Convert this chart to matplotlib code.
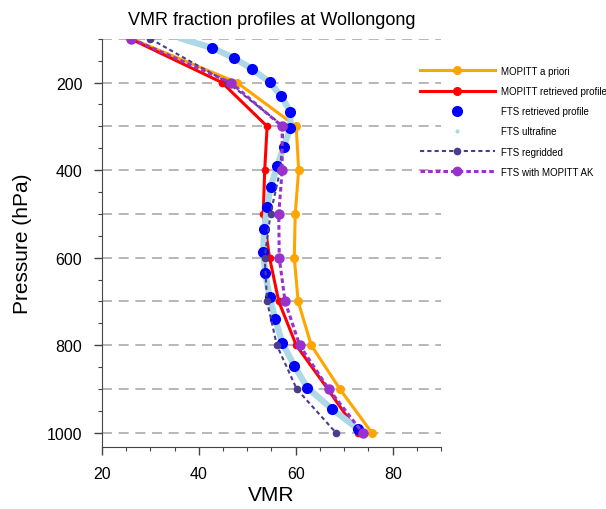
import matplotlib
matplotlib.use("Agg")
import matplotlib.pyplot as plt
from matplotlib.lines import Line2D
from matplotlib.ticker import MultipleLocator, FixedLocator

plt.rcParams['font.family'] = ['Liberation Sans', 'DejaVu Sans']

# MOPITT pressure grid (hPa)
mop_p = [100, 200, 300, 400, 500, 600, 700, 800, 900, 1000]
apriori = [26.1, 47.9, 60.1, 60.6, 59.9, 59.7, 60.5, 63.2, 69.1, 75.7]
retrieved = [25.9, 44.8, 54.1, 53.6, 53.3, 54.6, 56.5, 60.1, 66.6, 72.9]
regridded = [30.0, 46.0, 57.5, 56.8, 54.8, 53.6, 54.1, 56.1, 60.2, 68.3]
fts_ak = [26.1, 46.6, 57.2, 57.2, 56.5, 56.6, 57.8, 60.8, 66.8, 73.8]

# FTS retrieval levels
fts_p = [121, 144, 169, 199, 231, 267, 304, 347, 391, 439, 485,
         535, 586, 636, 689, 741, 794, 847, 897, 945, 991]
fts_vmr = [42.8, 47.3, 51.0, 54.6, 57.0, 58.9, 58.9, 57.5, 56.2, 54.8, 54.1,
           53.5, 53.3, 53.7, 54.6, 55.8, 57.2, 59.7, 62.4, 67.4, 72.8]

# ultrafine FTS profile
uf_p = [100, 121, 144, 169, 199, 231, 267, 304, 347, 391, 439, 485,
        535, 586, 636, 689, 741, 794, 847, 897, 945, 991, 1000]
uf_vmr = [36.5, 42.8, 47.3, 51.0, 54.6, 57.0, 58.9, 58.9, 57.5, 56.2, 54.8, 54.1,
          53.5, 53.3, 53.7, 54.6, 55.8, 57.2, 59.7, 62.4, 67.4, 72.8, 73.5]

fig = plt.figure(figsize=(6.06, 5.10), dpi=100)
ax = fig.add_axes([0.168, 0.122, 0.560, 0.800])

for p in range(100, 1001, 100):
    ax.axhline(p, color='#aaaaaa', lw=1.2, ls=(0, (6, 4)), zorder=0)

ax.plot(apriori, mop_p, color='orange', lw=2.2, marker='o', ms=5.5, zorder=2)
ax.plot(retrieved, mop_p, color='red', lw=2.2, marker='o', ms=4.5, zorder=3)
ax.plot(uf_vmr, uf_p, color='lightblue', lw=4.5, zorder=3.5)
ax.plot(fts_vmr, fts_p, color='blue', ls='none', marker='o', ms=7, zorder=4)
ax.plot(regridded, mop_p, color='darkslateblue', lw=1.5, ls=(0, (2, 1.5)),
        marker='o', ms=4.5, zorder=5)
ax.plot(fts_ak, mop_p, color='darkorchid', lw=2.2, ls=(0, (1.5, 1)),
        marker='o', ms=6.5, zorder=6)

ax.set_xlim(20, 90)
ax.set_ylim(1032, 100)
ax.xaxis.set_major_locator(FixedLocator([20, 40, 60, 80]))
ax.xaxis.set_minor_locator(MultipleLocator(5))
ax.yaxis.set_major_locator(FixedLocator([200, 400, 600, 800, 1000]))
ax.yaxis.set_minor_locator(MultipleLocator(50))
ax.tick_params(which='major', length=6, width=1, labelsize=11.5, pad=8, color='#444444')
ax.tick_params(which='minor', length=3, width=0.8, color='#444444')

for s in ['top', 'right']:
    ax.spines[s].set_visible(False)
for s in ['left', 'bottom']:
    ax.spines[s].set_color('#444444')

ax.set_title('VMR fraction profiles at Wollongong', fontsize=13, pad=11)
ax.set_xlabel('VMR', fontsize=15, labelpad=3)
ax.set_ylabel('Pressure (hPa)', fontsize=15, labelpad=11)

handles = [
    Line2D([], [], color='orange', lw=2.2, marker='o', ms=5.5),
    Line2D([], [], color='red', lw=2.2, marker='o', ms=5.5),
    Line2D([], [], color='blue', ls='none', marker='o', ms=7),
    Line2D([], [], color='lightblue', ls='none', marker='o', ms=2),
    Line2D([], [], color='darkslateblue', lw=1.5, ls=(0, (2, 1.5)), marker='o', ms=4.5),
    Line2D([], [], color='darkorchid', lw=2.2, ls=(0, (1.5, 1)), marker='o', ms=6),
]
labels = ['MOPITT a priori', 'MOPITT retrieved profile', 'FTS retrieved profile',
          'FTS ultrafine', 'FTS regridded', 'FTS with MOPITT AK']
fig.legend(handles, labels, loc='upper left', bbox_to_anchor=(0.693, 0.869),
           bbox_transform=fig.transFigure, frameon=False, fontsize=7,
           handlelength=7.7, handletextpad=0.6, labelspacing=1.05,
           borderpad=0, borderaxespad=0)

fig.savefig('out.png', dpi=100)
